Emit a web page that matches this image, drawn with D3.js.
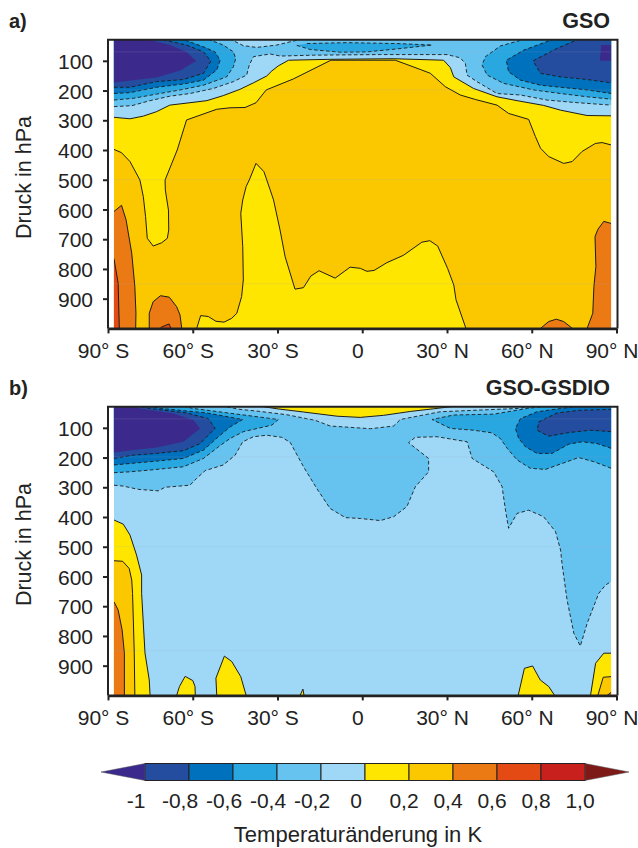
<!DOCTYPE html>
<html><head><meta charset="utf-8">
<script src="https://cdn.jsdelivr.net/npm/d3@7"></script>
<style>html,body{margin:0;padding:0;background:#fff}svg{display:block}text{font-family:"Liberation Sans",Arial,sans-serif;fill:#222}</style>
</head><body><svg id="c" width="638" height="848"></svg>
<script>
// ---- axes ----
const latTicks=[-90,-60,-30,0,30,60,90];
const pressureTicks=[100,200,300,400,500,600,700,800,900];
const legendLevels=[-1,-0.8,-0.6,-0.4,-0.2,0,0.2,0.4,0.6,0.8,1];
const legendLabels=["-1","-0,8","-0,6","-0,4","-0,2","0","0,2","0,4","0,6","0,8","1,0"];
const seamPressures=[70,198,500,850];
// colours per level band
const cNavy="#3B2A8C",cDeep="#244C9F",cBlue="#0071BC",cMid="#29A7E1",cSky="#66C3EF",cPale="#9FD8F7",
      cYellow="#FFE600",cGold="#FBC800",cOrange="#EC7A14",cRedOr="#E34A14",cRed="#C8201C",cDark="#7D1A18";
const legendColors=[cDeep,cBlue,cMid,cSky,cPale,cYellow,cGold,cOrange,cRedOr,cRed];

// ---- panel a contours: [latitude, hPa] ----
const aYellowTop=[[-87.9,398],[-85.2,409],[-82.2,439],[-78.7,501],[-77.5,557],[-76.7,624],[-76.1,697],[-74,723],[-71,712],[-69,697],[-68.5,669],[-68.6,602],[-69.7,535],[-69.8,501],[-65.5,400],[-62.2,299],[-51.5,263],[-46.8,258],[-41.5,257],[-37.6,241],[-34,198],[-24.4,161],[-11.1,98],[11.7,98],[20.5,129],[24.1,142],[29.4,187],[34.7,215],[40,230],[47.7,249],[51.8,277],[58.9,297],[61.3,355],[63.1,394],[66,422],[71.3,445],[74.3,439],[77.8,405],[82.5,378],[84.9,375],[88.1,383]];
const aYellowMid=[[-58.6,1000],[-57.2,957],[-54.5,960],[-51.8,976],[-48.9,979],[-46.2,966],[-44.4,949],[-42.7,893],[-42.1,837],[-42.3,725],[-43,613],[-42.3,568],[-41.1,523],[-40,501],[-37.6,445],[-34.8,473],[-32.6,534],[-31.4,568],[-29.1,669],[-27.3,759],[-23.8,868],[-20.8,863],[-18.2,824],[-15.3,806],[-9.6,831],[-4.3,794],[-0.7,798],[1.65,808],[4.2,805],[8.7,779],[14.6,754],[21.1,710],[23.9,705],[26.7,723],[30.2,798],[32.4,854],[33.2,904],[36.7,1000]];
const aOrangeRight=[[79.6,1000],[81.6,949],[82,859],[82.7,792],[82.4,691],[83.4,667],[85.5,640],[88.1,647]];
const aOrangeBump=[[63.1,1000],[66,977],[68.7,969],[71.3,977],[74.4,1000]];
const aOrangeLeft=[[-87.9,607],[-85.2,586],[-83.6,635],[-81.6,747],[-80.5,859],[-80.1,949],[-80.2,1000]];
const aRedLeft=[[-87.9,765],[-86.4,848],[-86,1000]];
const aOrangeMid=[[-75.4,1000],[-75.4,949],[-74,910],[-71.4,890],[-68.3,895],[-65.7,927],[-64.5,955],[-63.9,1000]];
const aRedMid=[[-71.4,997],[-68.4,985],[-67.7,1000]];
const aZero=[[-87.9,290],[-82.2,295],[-77.5,286],[-72.8,271],[-68.1,249],[-61,241],[-55,234],[-49.2,217],[-43.3,196],[-38.5,174],[-33.8,151],[-32,134],[-29.7,117],[-26.1,98],[-11.3,95],[11,93],[28.8,98],[31.2,123],[32.4,154],[39.4,193],[47.7,221],[54.8,234],[64.2,250],[70.2,266],[79.6,284],[88.1,285]];
const aM02=[[-87.9,254],[-81.6,251],[-75.1,234],[-68.1,219],[-61,210],[-52.7,193],[-45.6,170],[-40.9,148],[-40,114],[-38.5,86],[-32.6,77],[-29,84],[-17.3,81],[6.4,79],[30,79],[34.7,90],[36.5,109],[37.1,148],[40.6,170],[47.7,210],[56,215],[65.4,232],[74.9,240],[88.1,249]];
const aPalePatch=[[-47,26],[-42.1,49],[-37.4,55],[-30.3,47],[-21,26]];
const aMidPatch=[[-23.2,48],[-18.4,62],[-7.8,71],[1.6,70],[12.3,60],[24.7,47],[12.3,42],[-5.4,39],[-19.6,42]];
const aLeftM04=[[-87.9,232],[-81,226],[-72.8,212],[-63.3,196],[-56.2,182],[-48,154],[-45.6,120],[-44.8,92],[-45.6,70],[-49.2,47],[-55,26]];
const aLeftM06=[[-87.9,210],[-82.2,207],[-72.8,189],[-63.3,178],[-56.2,165],[-51.5,131],[-50.3,98],[-52.1,70],[-56.2,53],[-64,26]];
const aLeftM08=[[-87.9,189],[-82.2,189],[-72.8,170],[-63.3,163],[-56.2,142],[-53.6,101],[-56.2,70],[-62.2,47],[-72,26]];
const aLeftM10=[[-87.9,173],[-81,165],[-72.8,156],[-64.5,133],[-58.8,101],[-62.2,70],[-68,47],[-77,26]];
const aRightM04=[[58,26],[48.9,50],[43.6,86],[42.4,114],[44.2,148],[50.1,176],[60.7,198],[70.2,210],[79.6,221],[88.1,229]];
const aRightM06=[[68,26],[57.2,64],[51,98],[51.8,137],[56,165],[63.1,182],[70.2,189],[79.6,198],[88.1,210]];
const aRightM08=[[77,26],[69,58],[60.5,100],[63.1,142],[70.2,154],[79.6,163],[88.1,174]];
const aRightM10=[[84.6,47],[88.1,47],[88.1,100],[84.1,100]];

// ---- panel b contours: [latitude, hPa] ----
const bM02=[[-87.9,293],[-84.6,296],[-79.3,307],[-72.2,312],[-69.8,300],[-61,293],[-58.6,270],[-55.6,244],[-49.2,225],[-45,192],[-42.3,147],[-38.5,130],[-33.8,125],[-28.5,132],[-25.5,149],[-20.8,231],[-16.1,304],[-11.4,371],[-6,402],[-0.7,405],[6.4,412],[11.1,399],[15.8,365],[18.8,298],[23.5,248],[23.5,203],[16.4,150],[18.8,132],[26.5,130],[37.1,147],[38.9,203],[46.5,248],[49.5,298],[50.7,377],[51.8,438],[54.8,388],[58.9,377],[64.2,399],[68.4,449],[70.2,511],[70.7,556],[72.5,679],[74.9,791],[77.2,834],[79.6,758],[83.7,657],[86.1,629],[88.1,617]];
const bPaleTop=[[-50,26],[-43.3,38],[-36.1,45],[-26.7,56],[-16.6,75],[-11.3,94],[2.9,103],[11.1,94],[13.5,72],[27.6,46],[54.8,35],[62,26]];
const bYellowTop=[[-37,26],[-30.2,36],[-20.7,47],[-8.9,61],[-0.7,65],[7.6,58],[17,45],[25.3,36],[34,26]];
const bLeftM04=[[-87.9,251],[-82.2,248],[-75.1,242],[-63.3,231],[-56.2,203],[-50.9,164],[-46.8,136],[-42.1,113],[-32,91],[-29.7,72],[-59.8,35],[-64,26]];
const bLeftM06=[[-87.9,225],[-82.2,220],[-72.8,212],[-63.3,203],[-56.2,175],[-50.9,130],[-46.8,97],[-42.3,72],[-55,50],[-71,35],[-76,26]];
const bLeftM08=[[-87.9,203],[-81,192],[-72.8,186],[-63.3,177],[-57.4,153],[-52.1,102],[-54.5,69],[-62.2,50],[-75.1,35],[-80,26]];
const bLeftM10=[[-87.9,183],[-81,175],[-72.8,166],[-63.3,147],[-57.4,102],[-59.8,74],[-66.9,52],[-78.7,35],[-82,26]];
const bRightM04=[[88.1,236],[82,214],[76.6,200],[72.5,214],[64.8,240],[59.5,236],[54.8,208],[51.3,169],[48.9,136],[45.9,117],[39.4,108],[31.2,102],[24.7,72],[32.3,57],[46.5,54],[58.4,35],[66,26]];
const bRightM06=[[88.1,169],[83.1,153],[77.8,147],[73.1,155],[67.2,186],[61.9,186],[57.8,164],[55.4,136],[54.2,102],[56,69],[61.9,46],[70.2,35],[78,26]];
const bRightM08=[[88.1,113],[80.8,108],[73.1,116],[66,128],[61.9,108],[62.5,80],[69,50],[77,41],[88.1,38]];
const bYellowLeft=[[-87.9,410],[-84.6,424],[-82.2,461],[-79.9,528],[-78.1,595],[-78.1,657],[-76.9,858],[-75.4,948],[-75.1,1000]];
const bGoldLeft=[[-87.9,547],[-84.8,549],[-82.5,573],[-81.6,612],[-81.3,657],[-80.7,858],[-80.5,1000]];
const bOrangeLeft=[[-87.9,685],[-86.4,713],[-85,780],[-84.2,858],[-84.2,1000]];
const bBump1=[[-65.7,1000],[-64.7,970],[-62.7,936],[-60,950],[-59.2,970],[-59.1,1000]];
const bBump2=[[-51.5,1000],[-51.8,942],[-48.8,868],[-46.2,886],[-43,937],[-41.1,1000]];
const bBump3=[[-22,1000],[-21,979],[-20.6,1000]];
const bBump4=[[55.2,1000],[57.4,909],[60.3,901],[63,948],[66,970],[68.1,1000]];
const bYellowRight=[[80.8,1000],[82.6,892],[85.5,858],[88.1,858]];
const bGoldRight=[[83.4,1000],[85.3,939],[88.1,937]];
const bOrangeRight=[[86.7,1000],[88.1,990]];

// closures, in data units
const toTop=[[95,0],[-95,0]], toTopLeft=[[-95,0],[-95,300]];
const fromTopToRight=[[95,300],[95,0]], fromRightToTop=[[95,0],[95,300]];
const toBL=[[-95,1000]], toBR=[[95,1000]], none=[];

const panelA=[
 [aYellowTop,cYellow,0,toTop],[aYellowMid,cYellow,0,none],
 [aOrangeRight,cOrange,0,toBR],[aOrangeBump,cOrange,0,none],[aOrangeLeft,cOrange,0,toBL],
 [aRedLeft,cRedOr,0,toBL],[aOrangeMid,cOrange,0,none],[aRedMid,cRedOr,0,none],
 [aZero,cPale,0,toTop],[aM02,cSky,1,toTop],[aPalePatch,cPale,1,none],[aMidPatch,cMid,1,none],
 [aLeftM04,cMid,1,toTopLeft],[aLeftM06,cBlue,1,toTopLeft],[aLeftM08,cDeep,1,toTopLeft],[aLeftM10,cNavy,2,toTopLeft],
 [aRightM04,cMid,1,fromTopToRight],[aRightM06,cBlue,1,fromTopToRight],[aRightM08,cDeep,1,fromTopToRight],[aRightM10,cNavy,2,none]
];
const panelB=[
 [bM02,cSky,1,toTop],[bPaleTop,cPale,1,none],[bYellowTop,cYellow,0,none],
 [bLeftM04,cMid,1,toTopLeft],[bLeftM06,cBlue,1,toTopLeft],[bLeftM08,cDeep,1,toTopLeft],[bLeftM10,cNavy,2,toTopLeft],
 [bRightM04,cMid,1,fromRightToTop],[bRightM06,cBlue,1,fromRightToTop],[bRightM08,cDeep,1,none],
 [bYellowLeft,cYellow,0,toBL],[bGoldLeft,cGold,0,toBL],[bOrangeLeft,cOrange,0,toBL],
 [bBump1,cYellow,0,none],[bBump2,cYellow,0,none],[bBump3,cYellow,0,none],[bBump4,cYellow,0,none],
 [bYellowRight,cYellow,0,toBR],[bGoldRight,cGold,0,toBR],[bOrangeRight,cOrange,0,toBR]
];

const svg=d3.select("#c");
const FS=21, ink="#222";
const x=d3.scaleLinear().domain([-90,90]).range([108,616.5]);
const dataLat=[-87.9,88.1];
const fmtLat=d=>d===0?"0":Math.abs(d)+"° "+(d<0?"S":"N");

function drawPanel(id,layers,base,top,bottom,letter,title,titleY){
  const y=d3.scaleLinear().domain([29,1000]).range([top,bottom]);
  const g=svg.append("g");
  const line=d3.line().x(d=>x(d[0])).y(d=>y(d[1]));
  g.append("clipPath").attr("id",id).append("rect")
    .attr("x",x(dataLat[0])).attr("y",top).attr("width",x(dataLat[1])-x(dataLat[0])).attr("height",bottom-top);
  const plot=g.append("g").attr("clip-path",`url(#${id})`);
  plot.append("rect").attr("x",x(dataLat[0])).attr("y",top).attr("width",x(dataLat[1])-x(dataLat[0])).attr("height",bottom-top).attr("fill",base);
  layers.forEach(([pts,col,dash,close])=>{
    plot.append("path").attr("d",line(pts.concat(close))+"Z").attr("fill",col);
    if(dash<2){
      plot.append("path").attr("d",line(pts)).attr("fill","none").attr("stroke","#1c1c1c")
        .attr("stroke-width",dash?0.9:1).attr("stroke-dasharray",dash?"3.6,2.4":null);
    }
  });
  plot.selectAll(".seam").data(seamPressures).join("line").attr("class","seam")
    .attr("x1",x(dataLat[0])).attr("x2",x(dataLat[1])).attr("y1",d=>y(d)).attr("y2",d=>y(d))
    .attr("stroke","#9aa8c0").attr("stroke-opacity",0.18).attr("stroke-width",1);
  // frame
  g.append("path").attr("d",d3.line()([[x(-90),bottom],[x(-90),top],[x(90)+1,top],[x(90)+1,bottom]])).attr("fill","none").attr("stroke",ink).attr("stroke-width",2);
  // axes
  const ax=g.append("g").attr("transform",`translate(0,${bottom})`)
    .call(d3.axisBottom(x).tickValues(latTicks).tickFormat(fmtLat).tickSize(5).tickSizeOuter(0));
  ax.select(".domain").attr("stroke",ink).attr("stroke-width",2.6);
  ax.selectAll(".tick line").attr("stroke",ink).attr("stroke-width",2);
  ax.selectAll("text").attr("font-size",FS).attr("fill",ink).attr("x",-5).attr("y",29.5).attr("dy","0");
  const ay=g.append("g").attr("transform",`translate(${x(-90)},0)`)
    .call(d3.axisLeft(y).tickValues(pressureTicks).tickSize(5).tickSizeOuter(0));
  ay.select(".domain").remove();
  ay.selectAll(".tick line").attr("stroke",ink).attr("stroke-width",2);
  ay.selectAll("text").attr("font-size",FS).attr("fill",ink).attr("x",-15).attr("dy","0.36em");
  // titles
  g.append("text").attr("x",9).attr("y",titleY).attr("font-size",20).attr("font-weight","bold").text(letter);
  g.append("text").attr("x",610).attr("y",titleY).attr("text-anchor","end").attr("font-size",21.5).attr("font-weight","bold").text(title);
  g.append("text").attr("transform",`translate(31,${(top+bottom)/2-6.5}) rotate(-90)`).attr("text-anchor","middle").attr("font-size",21.5).text("Druck in hPa");
}
drawPanel("pa",panelA,cGold,39.7,328.4,"a)","GSO",28);
drawPanel("pb",panelB,cPale,406.7,695.4,"b)","GSO-GSDIO",395);

// colour bar
const lx=d3.scaleLinear().domain([-1,1]).range([145,585]);
const barTop=763.5, barBot=780.5, barMid=(barTop+barBot)/2;
const leg=svg.append("g");
leg.selectAll("rect").data(legendColors).join("rect")
  .attr("x",(d,i)=>lx(legendLevels[i])).attr("y",barTop)
  .attr("width",(d,i)=>lx(legendLevels[i+1])-lx(legendLevels[i])).attr("height",barBot-barTop)
  .attr("fill",d=>d).attr("stroke","#222").attr("stroke-width",1);
const tips=[[lx(-1),-44,cNavy],[lx(1),44,cDark]];
tips.forEach(([bx,dx,col])=>{
  leg.append("path").attr("d",d3.line()([[bx,barTop],[bx+dx,barMid],[bx,barBot]])+"Z").attr("fill",col).attr("stroke","#555").attr("stroke-width",0.5);
});
leg.selectAll("text").data(legendLabels).join("text")
  .attr("x",(d,i)=>lx(legendLevels[i])+(legendLevels[i]<=0?-9:-5)).attr("y",808).attr("text-anchor","middle")
  .attr("font-size",21).text(d=>d);
svg.append("text").attr("x",358).attr("y",842).attr("text-anchor","middle").attr("font-size",22).text("Temperaturänderung in K");
</script></body></html>
